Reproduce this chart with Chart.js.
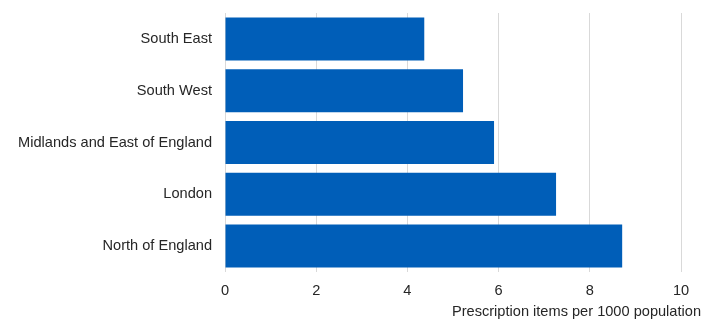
<!DOCTYPE html>
<html>
<head>
<meta charset="utf-8">
<script src="https://cdn.jsdelivr.net/npm/chart.js@4/dist/chart.umd.min.js"></script>
<style>
  html, body { margin: 0; padding: 0; background: #fff; }
  #wrap { width: 708px; height: 324px; }
</style>
</head>
<body>
<div id="wrap"><canvas id="chart"></canvas></div>
<script>
// Regions and prescription items per 1000 population
const regions = ['South East', 'South West', 'Midlands and East of England', 'London', 'North of England'];
const itemsPer1000 = [4.37, 5.22, 5.90, 7.26, 8.71];
const xTicks = [0, 2, 4, 6, 8, 10];
const xTitle = 'Prescription items per 1000 population';

const FONT = '"Liberation Sans", Arial, sans-serif';
const FONT_SIZE = 14.6;

// x-axis title sits past the plot's right edge, so draw it ourselves
const axisTitle = {
    id: 'axisTitle',
    afterDraw(chart) {
        const { ctx } = chart;
        ctx.save();
        ctx.font = FONT_SIZE + 'px ' + FONT;
        ctx.fillStyle = '#262626';
        ctx.textAlign = 'right';
        ctx.textBaseline = 'middle';
        ctx.fillText(xTitle, 701, 312);
        ctx.restore();
    }
};

new Chart(document.getElementById('chart'), {
    type: 'bar',
    data: {
        labels: regions,
        datasets: [{
            data: itemsPer1000,
            backgroundColor: '#005EB8',
            categoryPercentage: 1,
            barPercentage: 0.83,
        }],
    },
    options: {
        indexAxis: 'y',
        responsive: true,
        maintainAspectRatio: false,
        animation: false,
        layout: { padding: { top: 13, right: 27, left: 0, bottom: 0 } },
        plugins: { legend: { display: false }, tooltip: { enabled: false } },
        scales: {
            x: {
                min: 0,
                max: 10,
                afterBuildTicks: (scale) => { scale.ticks = xTicks.map((v) => ({ value: v })); },
                afterFit: (scale) => { scale.height = 52; },
                grid: { color: '#d9d9d9', drawTicks: false },
                border: { display: false },
                ticks: { color: '#262626', font: { family: FONT, size: FONT_SIZE }, padding: 10 },
            },
            y: {
                afterFit: (scale) => { scale.width = 225; },
                // invisible tick marks keep the labels 13px off the plot
                grid: { color: 'rgba(0,0,0,0)', drawOnChartArea: false, drawTicks: true, tickLength: 13 },
                border: { display: false },
                ticks: { color: '#262626', font: { family: FONT, size: FONT_SIZE }, padding: 0 },
            },
        },
    },
    plugins: [axisTitle],
});
</script>
</body>
</html>
